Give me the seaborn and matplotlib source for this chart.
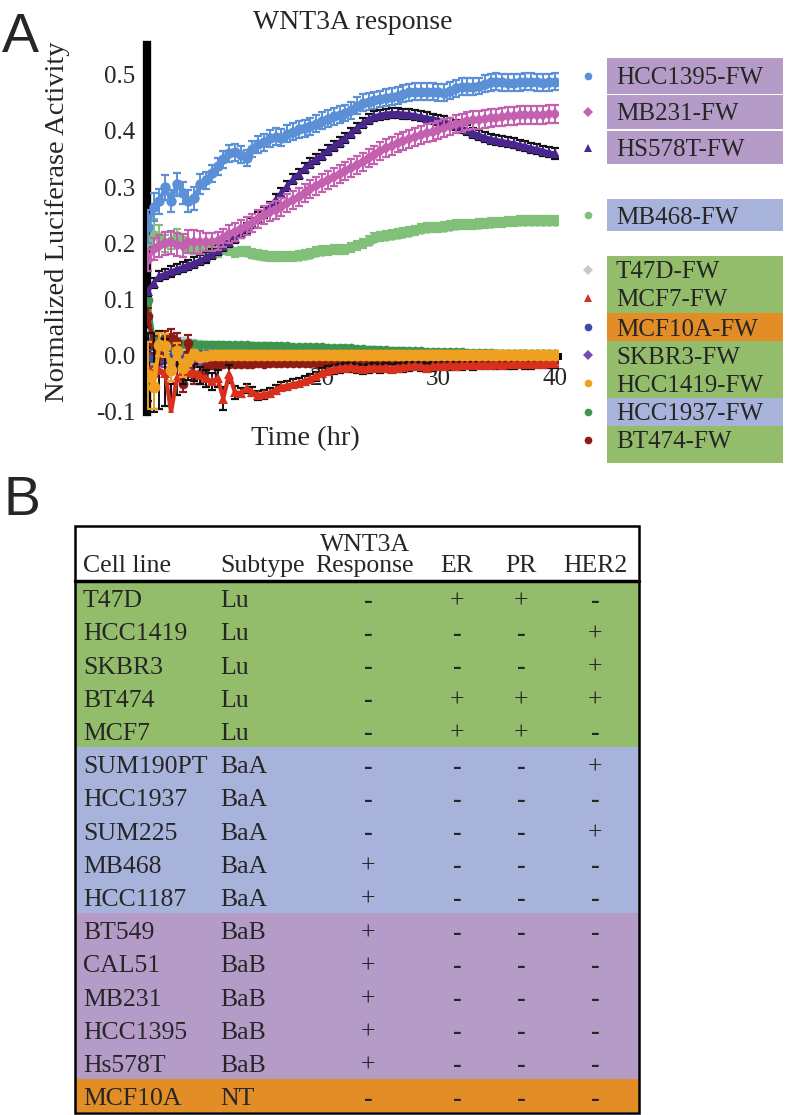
"""
WNT3A reporter time course (panel A) and cell line summary table (panel B).
"""

import numpy as np
import matplotlib
matplotlib.use("Agg")
import matplotlib.pyplot as plt
from matplotlib.patches import Rectangle
import seaborn as sns

W, H = 785, 1115

# ---------------------------------------------------------------- data
hours = np.arange(5.0, 40.5, 0.5)

hcc1395 = [0.230, 0.265, 0.275, 0.300, 0.275, 0.305, 0.290, 0.275, 0.280, 0.305,
           0.312, 0.325, 0.337, 0.350, 0.360, 0.362, 0.358, 0.352, 0.368, 0.376,
           0.380, 0.387, 0.390, 0.388, 0.395, 0.399, 0.403, 0.405, 0.408, 0.413,
           0.418, 0.422, 0.426, 0.429, 0.432, 0.437, 0.445, 0.450, 0.452, 0.455,
           0.457, 0.459, 0.461, 0.463, 0.466, 0.469, 0.470, 0.470, 0.470, 0.470,
           0.469, 0.468, 0.472, 0.476, 0.479, 0.479, 0.479, 0.480, 0.484, 0.487,
           0.488, 0.487, 0.486, 0.486, 0.487, 0.488, 0.488, 0.487, 0.486, 0.487,
           0.488]
mb231 = [0.170, 0.190, 0.195, 0.200, 0.202, 0.198, 0.196, 0.203, 0.203, 0.202,
         0.202, 0.202, 0.204, 0.209, 0.216, 0.221, 0.226, 0.231, 0.237, 0.244,
         0.250, 0.255, 0.260, 0.265, 0.271, 0.277, 0.283, 0.290, 0.296, 0.302,
         0.307, 0.312, 0.318, 0.324, 0.329, 0.335, 0.340, 0.345, 0.352, 0.358,
         0.364, 0.369, 0.374, 0.378, 0.382, 0.386, 0.389, 0.393, 0.396, 0.399,
         0.402, 0.405, 0.408, 0.412, 0.415, 0.417, 0.419, 0.420, 0.422, 0.423,
         0.424, 0.425, 0.426, 0.427, 0.428, 0.429, 0.429, 0.429, 0.429, 0.430,
         0.430]
hs578t = [0.115, 0.130, 0.142, 0.146, 0.150, 0.154, 0.158, 0.162, 0.166, 0.170,
          0.175, 0.181, 0.188, 0.195, 0.203, 0.210, 0.218, 0.228, 0.237, 0.246,
          0.255, 0.265, 0.278, 0.290, 0.302, 0.314, 0.324, 0.334, 0.343, 0.350,
          0.358, 0.366, 0.374, 0.381, 0.388, 0.397, 0.406, 0.414, 0.421, 0.426,
          0.429, 0.431, 0.432, 0.432, 0.431, 0.430, 0.428, 0.426, 0.424, 0.422,
          0.420, 0.417, 0.414, 0.410, 0.406, 0.402, 0.397, 0.393, 0.389, 0.386,
          0.384, 0.382, 0.380, 0.378, 0.375, 0.373, 0.370, 0.368, 0.365, 0.362,
          0.360]
mb468 = [0.205, 0.215, 0.212, 0.200, 0.205, 0.214, 0.204, 0.195, 0.190, 0.190,
         0.190, 0.187, 0.184, 0.190, 0.188, 0.184, 0.186, 0.185, 0.182, 0.180,
         0.178, 0.177, 0.177, 0.177, 0.177, 0.177, 0.178, 0.180, 0.182, 0.185,
         0.187, 0.188, 0.190, 0.190, 0.190, 0.193, 0.197, 0.200, 0.205, 0.210,
         0.213, 0.214, 0.215, 0.217, 0.219, 0.221, 0.223, 0.226, 0.228, 0.229,
         0.229, 0.230, 0.231, 0.233, 0.234, 0.234, 0.234, 0.235, 0.236, 0.237,
         0.238, 0.238, 0.239, 0.239, 0.240, 0.240, 0.240, 0.240, 0.240, 0.240,
         0.240]
t47d = [0.040, 0.035, 0.030, 0.030, 0.028, 0.027, 0.027, 0.025, 0.023, 0.021,
        0.019, 0.018, 0.017, 0.016, 0.016, 0.015, 0.015, 0.015, 0.014, 0.014,
        0.014, 0.013, 0.013, 0.013, 0.012, 0.012, 0.012, 0.011, 0.011, 0.011,
        0.010, 0.010, 0.010, 0.009, 0.009, 0.009, 0.008, 0.008, 0.008, 0.007,
        0.007, 0.007, 0.006, 0.006, 0.006, 0.006, 0.005, 0.005, 0.005, 0.005,
        0.005, 0.004, 0.004, 0.004, 0.004, 0.004, 0.004, 0.003, 0.003, 0.003,
        0.003, 0.003, 0.003, 0.003, 0.003, 0.003, 0.002, 0.002, 0.002, 0.002,
        0.002]
mcf7 = [-0.020, -0.030, -0.025, -0.030, -0.100, -0.040, -0.030, -0.028, -0.030, -0.035,
        -0.040, -0.045, -0.040, -0.076, -0.032, -0.065, -0.066, -0.058, -0.064, -0.070,
        -0.068, -0.066, -0.060, -0.055, -0.053, -0.050, -0.048, -0.044, -0.041, -0.036,
        -0.030, -0.027, -0.024, -0.022, -0.021, -0.020, -0.022, -0.024, -0.022, -0.021,
        -0.022, -0.021, -0.023, -0.021, -0.020, -0.019, -0.018, -0.019, -0.021, -0.019,
        -0.018, -0.018, -0.017, -0.018, -0.017, -0.016, -0.017, -0.016, -0.016, -0.016,
        -0.015, -0.016, -0.015, -0.015, -0.014, -0.015, -0.015, -0.014, -0.014, -0.013,
        -0.013]
mcf10a = [0.000, -0.010, -0.005, -0.003, -0.002, 0.000, 0.001, 0.002, 0.002, 0.003,
          0.003, 0.003, 0.004, 0.004, 0.004, 0.004, 0.005, 0.005, 0.005, 0.005,
          0.005, 0.005, 0.005, 0.006, 0.006, 0.006, 0.006, 0.006, 0.006, 0.006,
          0.006, 0.006, 0.006, 0.006, 0.007, 0.007, 0.007, 0.007, 0.007, 0.007,
          0.007, 0.006, 0.006, 0.006, 0.006, 0.006, 0.006, 0.005, 0.005, 0.005,
          0.005, 0.005, 0.005, 0.004, 0.004, 0.004, 0.004, 0.004, 0.004, 0.004,
          0.003, 0.003, 0.003, 0.003, 0.003, 0.003, 0.003, 0.003, 0.003, 0.003,
          0.003]
skbr3 = [0.035, 0.020, -0.015, -0.010, -0.010, -0.012, -0.015, -0.017, -0.015, -0.014,
         -0.014, -0.014, -0.013, -0.013, -0.012, -0.012, -0.011, -0.011, -0.011, -0.010,
         -0.010, -0.010, -0.010, -0.010, -0.010, -0.009, -0.009, -0.009, -0.009, -0.009,
         -0.009, -0.009, -0.009, -0.009, -0.009, -0.009, -0.009, -0.009, -0.009, -0.009,
         -0.009, -0.009, -0.009, -0.008, -0.008, -0.008, -0.008, -0.008, -0.008, -0.008,
         -0.008, -0.008, -0.008, -0.008, -0.008, -0.008, -0.008, -0.008, -0.007, -0.007,
         -0.007, -0.007, -0.007, -0.007, -0.007, -0.007, -0.007, -0.007, -0.007, -0.007,
         -0.007]
hcc1419 = [-0.035, -0.055, 0.020, 0.018, -0.025, 0.008, -0.022, -0.008, 0.004, -0.002,
           0.000, 0.001, 0.002, 0.002, 0.002, 0.002, 0.002, 0.002, 0.002, 0.002,
           0.002, 0.002, 0.002, 0.002, 0.002, 0.002, 0.002, 0.002, 0.002, 0.002,
           0.002, 0.002, 0.002, 0.002, 0.002, 0.002, 0.002, 0.002, 0.002, 0.002,
           0.002, 0.002, 0.002, 0.002, 0.002, 0.002, 0.002, 0.002, 0.002, 0.002,
           0.002, 0.002, 0.002, 0.002, 0.002, 0.002, 0.002, 0.002, 0.002, 0.002,
           0.002, 0.002, 0.002, 0.002, 0.002, 0.002, 0.002, 0.002, 0.002, 0.002,
           0.002]
hcc1937 = [0.100, 0.030, 0.022, 0.025, 0.022, 0.022, 0.021, 0.021, 0.021, 0.020,
           0.020, 0.020, 0.020, 0.020, 0.019, 0.019, 0.019, 0.019, 0.018, 0.018,
           0.018, 0.018, 0.017, 0.017, 0.017, 0.016, 0.016, 0.016, 0.015, 0.015,
           0.015, 0.014, 0.014, 0.014, 0.013, 0.013, 0.012, 0.012, 0.011, 0.011,
           0.010, 0.010, 0.009, 0.009, 0.009, 0.008, 0.008, 0.008, 0.007, 0.007,
           0.007, 0.006, 0.006, 0.006, 0.006, 0.005, 0.005, 0.005, 0.005, 0.005,
           0.004, 0.004, 0.004, 0.004, 0.004, 0.004, 0.004, 0.004, 0.004, 0.004,
           0.004]
bt474 = [0.070, 0.020, 0.000, 0.030, 0.033, 0.025, -0.050, 0.022, -0.035, -0.035,
         -0.020, -0.016, -0.015, -0.015, -0.014, -0.014, -0.014, -0.015, -0.014, -0.013,
         -0.014, -0.013, -0.013, -0.013, -0.012, -0.012, -0.012, -0.012, -0.012, -0.012,
         -0.012, -0.012, -0.011, -0.011, -0.011, -0.011, -0.011, -0.011, -0.011, -0.011,
         -0.011, -0.010, -0.010, -0.010, -0.010, -0.010, -0.010, -0.010, -0.010, -0.010,
         -0.010, -0.009, -0.009, -0.009, -0.009, -0.009, -0.009, -0.009, -0.009, -0.009,
         -0.009, -0.008, -0.008, -0.008, -0.008, -0.008, -0.008, -0.008, -0.008, -0.008,
         -0.008]

# error bar half-widths (large early, roughly constant afterwards)
err_hcc1395 = [0.030, 0.025, 0.022, 0.022, 0.020, 0.020, 0.020, 0.020, 0.020, 0.018] + [0.015] * 61
err_mb231 = [0.020] * 10 + [0.016] * 61
err_hs578t = [0.009] * 71
err_mb468 = [0.030, 0.028, 0.020, 0.015, 0.015, 0.012] + [0.008] * 65
err_t47d = [0.005] * 71
err_mcf7 = [0.060, 0.070, 0.070, 0.060, 0.050, 0.030, 0.020, 0.015, 0.015, 0.015,
            0.015, 0.015, 0.015, 0.020, 0.016, 0.012] + [0.008] * 55
err_mcf10a = [0.010] * 6 + [0.004] * 65
err_skbr3 = [0.010] * 6 + [0.004] * 65
err_hcc1419 = [0.060, 0.040, 0.020, 0.020, 0.020, 0.015, 0.015, 0.010] + [0.006] * 63
err_hcc1937 = [0.010] * 6 + [0.004] * 65
err_bt474 = [0.015] * 10 + [0.004] * 61

series = {
    "HCC1395": (hcc1395, err_hcc1395),
    "MB231": (mb231, err_mb231),
    "HS578T": (hs578t, err_hs578t),
    "MB468": (mb468, err_mb468),
    "T47D": (t47d, err_t47d),
    "MCF7": (mcf7, err_mcf7),
    "MCF10A": (mcf10a, err_mcf10a),
    "SKBR3": (skbr3, err_skbr3),
    "HCC1419": (hcc1419, err_hcc1419),
    "HCC1937": (hcc1937, err_hcc1937),
    "BT474": (bt474, err_bt474),
}

y_ticks = [-0.1, 0.0, 0.1, 0.2, 0.3, 0.4, 0.5]
y_tick_labels = ["-0.1", "0.0", "0.1", "0.2", "0.3", "0.4", "0.5"]
x_ticks = [10, 20, 30, 40]

# table (panel B)
cell_lines = ["T47D", "HCC1419", "SKBR3", "BT474", "MCF7", "SUM190PT", "HCC1937",
              "SUM225", "MB468", "HCC1187", "BT549", "CAL51", "MB231", "HCC1395",
              "Hs578T", "MCF10A"]
subtypes = ["Lu", "Lu", "Lu", "Lu", "Lu", "BaA", "BaA", "BaA", "BaA", "BaA",
            "BaB", "BaB", "BaB", "BaB", "BaB", "NT"]
wnt_response = ["-", "-", "-", "-", "-", "-", "-", "-", "+", "+", "+", "+", "+", "+", "+", "-"]
er_status = ["+", "-", "-", "+", "+", "-", "-", "-", "-", "-", "-", "-", "-", "-", "-", "-"]
pr_status = ["+", "-", "-", "+", "+", "-", "-", "-", "-", "-", "-", "-", "-", "-", "-", "-"]
her2_status = ["-", "+", "+", "+", "-", "+", "-", "+", "-", "-", "-", "-", "-", "-", "-", "-"]

# ---------------------------------------------------------------- styles
line_style = {
    "HCC1395": dict(color="#5b8fd6", marker="o", ms=7.5, ecolor="#5b8fd6"),
    "MB231": dict(color="#c460b0", marker="D", ms=5.8, ecolor="#c460b0"),
    "HS578T": dict(color="#48268c", marker="^", ms=7.5, ecolor="#111111"),
    "MB468": dict(color="#80c078", marker="o", ms=7.5, ecolor="#80c078"),
    "T47D": dict(color="#c8c8c8", marker="D", ms=5.5, ecolor="#c8c8c8"),
    "MCF7": dict(color="#d8301c", marker="^", ms=7.0, ecolor="#111111"),
    "MCF10A": dict(color="#3a4ca6", marker="o", ms=7.0, ecolor="#3a4ca6"),
    "SKBR3": dict(color="#7a4aae", marker="D", ms=5.5, ecolor="#7a4aae"),
    "HCC1419": dict(color="#efa020", marker="o", ms=8.5, ecolor="#efa020"),
    "HCC1937": dict(color="#3d9550", marker="o", ms=7.0, ecolor="#3d9550"),
    "BT474": dict(color="#8e1b16", marker="o", ms=7.0, ecolor="#8e1b16"),
}
draw_order = ["SKBR3", "MCF10A", "T47D", "HCC1937", "BT474", "MCF7", "HCC1419",
              "MB468", "HCC1395", "HS578T", "MB231"]
subtype_color = {"Lu": "#93bd6a", "BaA": "#a8b3dc", "BaB": "#b59cc8", "NT": "#e28d25"}

SERIF = ["Liberation Serif", "DejaVu Serif"]
SANS = ["Liberation Sans", "DejaVu Sans"]

sns.set_style("white")
plt.rcParams["font.family"] = SERIF
plt.rcParams["axes.unicode_minus"] = False

fig = plt.figure(figsize=(W / 100, H / 100), dpi=100)

# ---------------------------------------------------------------- panel A
ax_l, ax_r, ax_t, ax_b = 147, 558, 45, 412
ax = fig.add_axes([ax_l / W, 1 - ax_b / H, (ax_r - ax_l) / W, (ax_b - ax_t) / H])
ax.set_facecolor("none")

for z, name in enumerate(draw_order):
    vals, errs = series[name]
    st = line_style[name]
    assert len(vals) == len(hours) and len(errs) == len(hours), name
    ax.errorbar(hours, vals, yerr=errs, fmt="none", ecolor=st["ecolor"],
                elinewidth=1.4, capsize=3.0, capthick=1.6, zorder=2 + 2 * z)
    sns.lineplot(x=hours, y=vals, ax=ax, color=st["color"], marker=st["marker"],
                 markersize=st["ms"], markeredgewidth=0, linewidth=3,
                 zorder=3 + 2 * z)

# spines first: moving a spine resets the tick labels
for side in ["top", "right"]:
    ax.spines[side].set_visible(False)
ax.spines["bottom"].set_position(("data", 0))
ax.spines["bottom"].set_linewidth(5)
ax.spines["bottom"].set_color("black")
ax.spines["bottom"].set_zorder(1)
ax.spines["left"].set_linewidth(6)
ax.spines["left"].set_color("black")
ax.spines["left"].set_zorder(1)

ax.set_xlim(4.93, 40.3)
ax.set_ylim(-0.1, 0.553)
ax.set_yticks(y_ticks)
ax.set_yticklabels(y_tick_labels, fontsize=18)
ax.set_xticks(x_ticks)
ax.set_xticklabels([str(t) for t in x_ticks], fontsize=18)
ax.tick_params(axis="y", length=8.5, width=6.5, color="black", pad=0, direction="out")
ax.tick_params(axis="x", length=0, pad=9)
ax.set_xlabel("")
ax.set_ylabel("")
ax.xaxis.set_zorder(1)

# overlay in pixel coordinates for titles, legend and table
ov = fig.add_axes([0, 0, 1, 1], zorder=5)
ov.set_xlim(0, W)
ov.set_ylim(H, 0)
ov.axis("off")
ov.patch.set_alpha(0)

ov.text(353, 29, "WNT3A response", fontsize=20, ha="center", va="baseline")
ov.text(58, 222, "Normalized Luciferase Activity", fontsize=20.5, rotation=90,
        ha="center", va="center")
ov.text(305, 445, "Time (hr)", fontsize=20.5, ha="center", va="baseline")
ov.text(2, 52, "A", fontsize=40, family=SANS, va="baseline")
ov.text(4, 515, "B", fontsize=40, family=SANS, va="baseline")

# legend with subtype-coloured label boxes
subtype_of = {c.upper(): s for c, s in zip(cell_lines, subtypes)}
legend_names = ["HCC1395", "MB231", "HS578T", "MB468", "T47D", "MCF7", "MCF10A",
                "SKBR3", "HCC1419", "HCC1937", "BT474"]
leg_text_y = [76, 112, 148, 215, 270, 298, 327, 355, 383, 412, 440]
leg_top = [58, 95, 130.5, 199, 256, 284, 312.5, 341, 369, 397.5, 426]
leg_bot = [93.5, 129, 164, 231, 284, 312.5, 341, 369, 397.5, 426, 463]
for name, ty, top, bot in zip(legend_names, leg_text_y, leg_top, leg_bot):
    st = line_style[name]
    ov.add_patch(Rectangle((607, top), 176, bot - top, facecolor=subtype_color[subtype_of[name]],
                           edgecolor="none"))
    ov.plot([588], [ty], marker=st["marker"], color=st["color"], markeredgewidth=0,
            markersize=min(st["ms"], 6.5) * 0.85)
    ov.text(616, ty, name + "-FW", fontsize=18, ha="left", va="center_baseline")

# ---------------------------------------------------------------- panel B
tb_l, tb_r, tb_t, tb_b = 75, 639, 526, 1113
row_top, row_h = 581, 33.2
col_cell, col_sub = 83, 220
col_resp, col_er, col_pr, col_her2 = 368, 457, 521, 595
fs_tab = 18.5

for i, (cl, sub, resp, er, pr, her2) in enumerate(
        zip(cell_lines, subtypes, wnt_response, er_status, pr_status, her2_status)):
    y0 = row_top + i * row_h
    ov.add_patch(Rectangle((tb_l, y0), tb_r - tb_l, row_h,
                           facecolor=subtype_color[sub], edgecolor="none"))
    yc = y0 + row_h / 2 + 1
    ov.text(col_cell, yc, cl, fontsize=fs_tab, ha="left", va="center_baseline")
    ov.text(col_sub, yc, sub, fontsize=fs_tab, ha="left", va="center_baseline")
    for x, v in zip([col_resp, col_er, col_pr, col_her2], [resp, er, pr, her2]):
        ov.text(x, yc, v, fontsize=fs_tab, ha="center", va="center_baseline",
                fontweight="bold" if v == "-" else "normal")

ov.text(col_resp - 3, 551, "WNT3A", fontsize=fs_tab, ha="center", va="baseline")
ov.text(col_cell, 572, "Cell line", fontsize=fs_tab, ha="left", va="baseline")
ov.text(col_sub, 572, "Subtype", fontsize=fs_tab, ha="left", va="baseline")
ov.text(col_resp - 3, 572, "Response", fontsize=fs_tab, ha="center", va="baseline")
ov.text(col_er, 572, "ER", fontsize=fs_tab, ha="center", va="baseline")
ov.text(col_pr, 572, "PR", fontsize=fs_tab, ha="center", va="baseline")
ov.text(col_her2, 572, "HER2", fontsize=fs_tab, ha="center", va="baseline")

ov.plot([tb_l, tb_r], [row_top, row_top], color="black", linewidth=2.5)
ov.add_patch(Rectangle((tb_l, tb_t), tb_r - tb_l, tb_b - tb_t, facecolor="none",
                       edgecolor="black", linewidth=1.8))

fig.savefig("out.png", dpi=100)
